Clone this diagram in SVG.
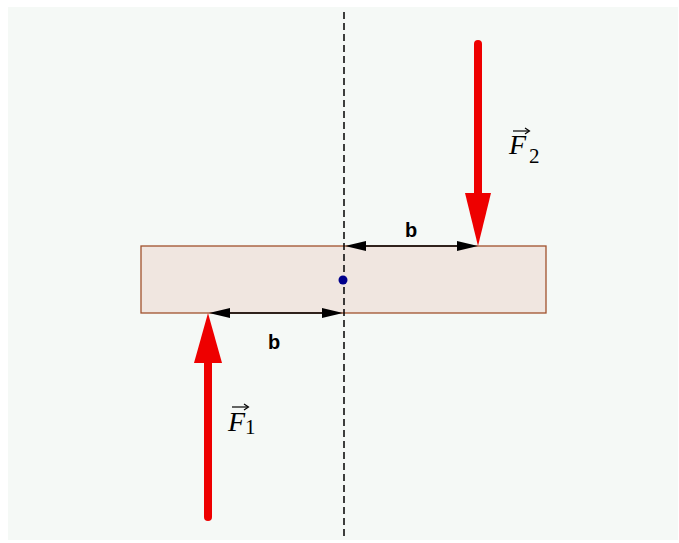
<svg xmlns="http://www.w3.org/2000/svg" width="679" height="543" viewBox="0 0 679 543">
  <defs>
    <style>
      .force { stroke: #ee0000; stroke-width: 8; stroke-linecap: round; fill: none; }
      .head { fill: #ee0000; }
      .dim { stroke: #000; stroke-width: 1.3; fill: none; }
      .dimhead { fill: #000; }
      .lbl { font-family: "Liberation Sans", Arial, sans-serif; font-weight: bold; font-size: 20px; fill: #000; }
      .flbl { font-family: "Liberation Serif", "Times New Roman", serif; font-style: italic; font-size: 28px; fill: #000; }
      .sub { font-family: "Liberation Serif", "Times New Roman", serif; font-size: 21px; fill: #000; }
      .vec { stroke: #000; stroke-width: 1.2; fill: none; }
    </style>
  </defs>
  <rect x="0" y="0" width="679" height="543" fill="#ffffff"/>
  <rect x="8" y="7" width="670" height="533" fill="#f5f9f6"/>

  <g id="beam">
    <rect x="141" y="246" width="405" height="67" fill="#f0e6e0" stroke="#a0522d" stroke-width="1.3"/>
  </g>

  <g id="axis">
    <line x1="344" y1="12" x2="344" y2="540" stroke="#000" stroke-width="1.5" stroke-dasharray="7,4"/>
  </g>

  <g id="center">
    <circle cx="343" cy="280" r="4.5" fill="#00008b"/>
  </g>

  <g id="connectors">
    <g id="dim-top">
      <line class="dim" x1="350" y1="246" x2="472" y2="246"/>
      <polygon class="dimhead" points="345,246 366,241 366,251"/>
      <polygon class="dimhead" points="478,246 457,241 457,251"/>
    </g>
    <g id="dim-bottom">
      <line class="dim" x1="214" y1="313" x2="338" y2="313"/>
      <polygon class="dimhead" points="209,313 230,308 230,318"/>
      <polygon class="dimhead" points="343,313 322,308 322,318"/>
    </g>
  </g>

  <g id="force-F2">
    <line class="force" x1="478" y1="44" x2="478" y2="196"/>
    <polygon class="head" points="465,193 491,193 478,246"/>
  </g>

  <g id="force-F1">
    <line class="force" x1="208" y1="517" x2="208" y2="360"/>
    <polygon class="head" points="194,363 222,363 208,313"/>
  </g>

  <g id="label-b-top">
    <text class="lbl" x="411" y="237" text-anchor="middle">b</text>
  </g>
  <g id="label-b-bottom">
    <text class="lbl" x="274" y="349" text-anchor="middle">b</text>
  </g>

  <g id="label-F2">
    <text class="flbl" x="509" y="154">F</text>
    <text class="sub" x="529" y="163">2</text>
    <line class="vec" x1="513" y1="131" x2="529" y2="131"/>
    <path d="M525,128 L529.5,131 L525,134" class="vec"/>
  </g>

  <g id="label-F1">
    <text class="flbl" x="228" y="431">F</text>
    <text class="sub" x="245" y="434">1</text>
    <line class="vec" x1="232" y1="407" x2="248" y2="407"/>
    <path d="M244,404 L248.5,407 L244,410" class="vec"/>
  </g>
</svg>
